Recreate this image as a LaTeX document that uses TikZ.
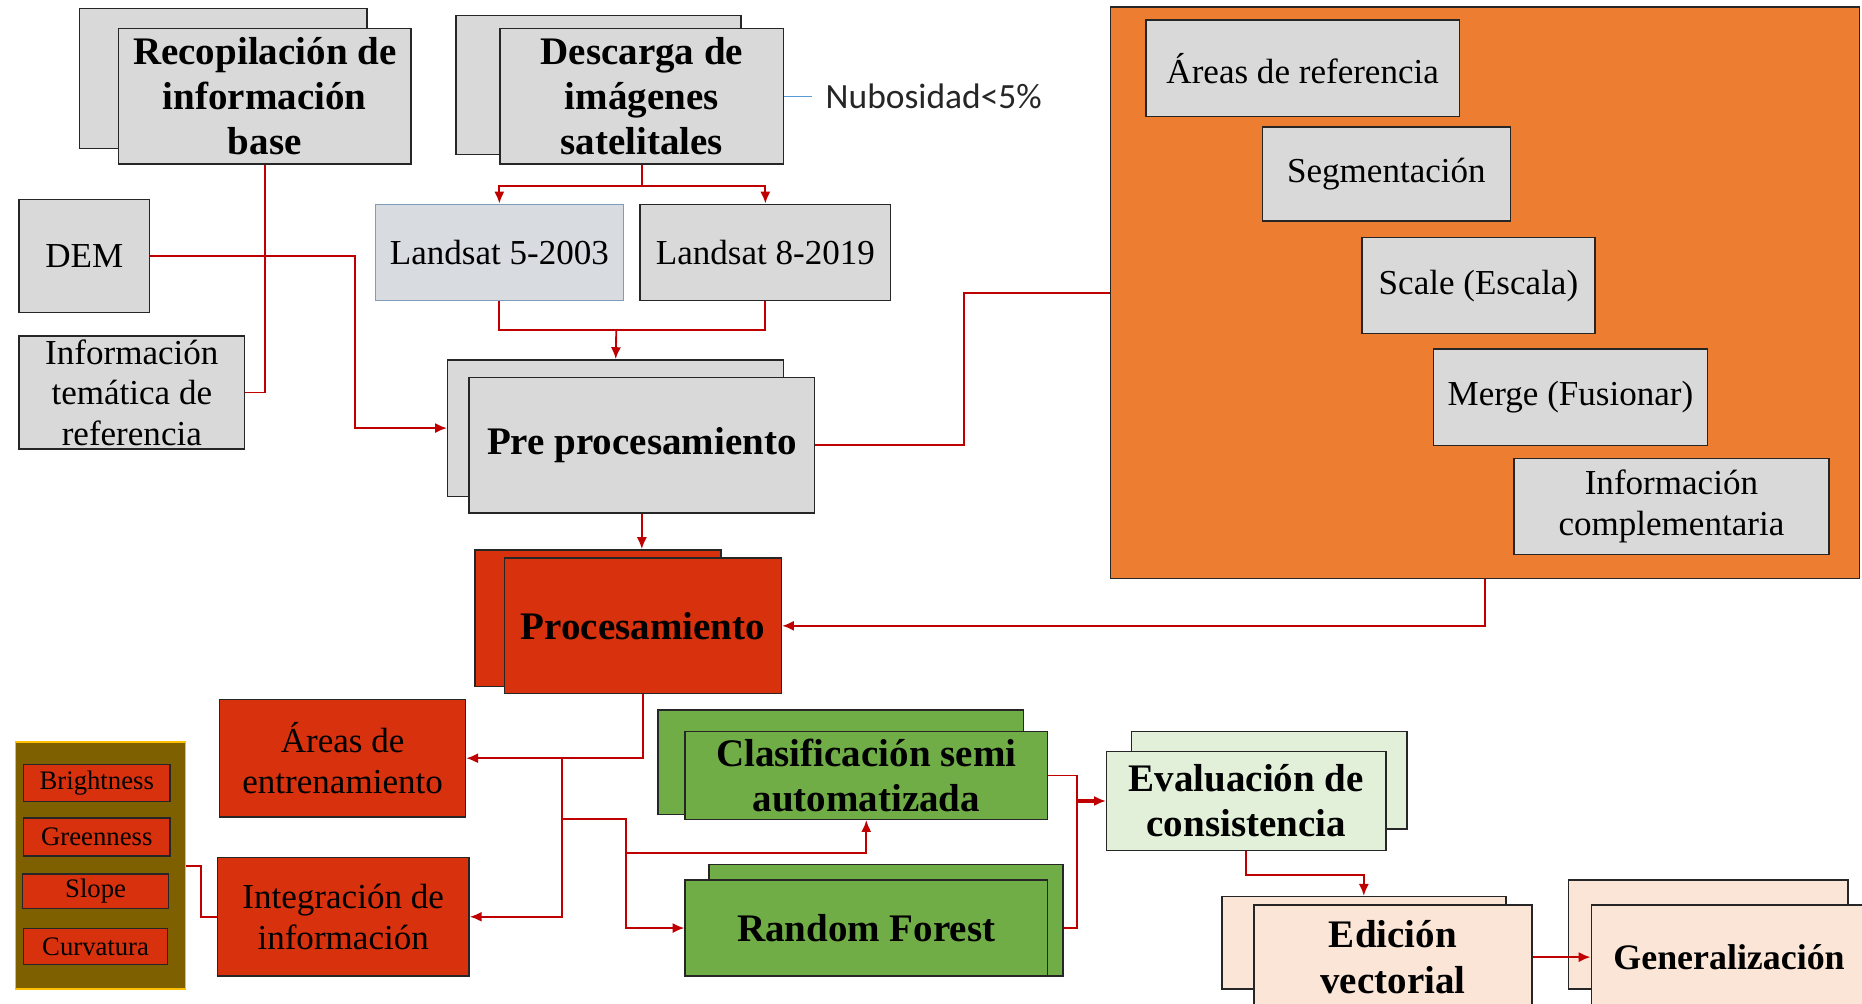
\documentclass[tikz,border=0pt]{standalone}
\usepackage{fontspec}
\setmainfont{Liberation Serif}
\newfontfamily\calibfont{Carlito}
\usetikzlibrary{arrows.meta}
\definecolor{boxgray}{HTML}{D9D9D9}
\definecolor{landgray}{HTML}{D8DCE1}
\definecolor{landedge}{HTML}{7F9DB9}
\definecolor{boxorange}{HTML}{ED7D31}
\definecolor{boxred}{HTML}{D8310E}
\definecolor{boxgreen}{HTML}{70AD47}
\definecolor{palegreen}{HTML}{E2F0D9}
\definecolor{peach}{HTML}{FBE5D6}
\definecolor{olive}{HTML}{7F6000}
\definecolor{gold}{HTML}{FFC000}
\definecolor{linkred}{HTML}{C00000}
\definecolor{nubline}{HTML}{5B9BD5}
\begin{document}
\begin{tikzpicture}[x=0.02cm, y=-0.02cm,
  box/.style 2 args={draw=black!85, line width=0.7pt, inner sep=0pt, align=center,
    minimum width=#1*0.02cm, minimum height=#2*0.02cm},
  head/.style={font=\fontsize{18.7}{21.6}\selectfont\bfseries},
  body/.style={font=\fontsize{16.8}{19.4}\selectfont},
  small/.style={font=\fontsize{12.8}{14}\selectfont},
  conn/.style={draw=linkred, line width=0.9pt},
  arr/.style={conn, -{Latex[length=2mm, width=1.7mm]}}]
\useasboundingbox (0,0) rectangle (1568,845);
\fill[white] (0,0) rectangle (1568,845);
% Top row: inputs
\node[box={242}{118}, fill=boxgray] (recb) at (188,66) {};
\node[box={246}{114}, fill=boxgray, head] (rec) at (223,81) {Recopilación de\\información\\base};
\node[box={240}{117}, fill=boxgray] (desb) at (504,71.5) {};
\node[box={239}{114}, fill=boxgray, head] (des) at (540.5,81) {Descarga de\\imágenes\\satelitales};
\node[anchor=west, inner sep=0pt, inner xsep=0.22cm, font=\calibfont\fontsize{17}{20}\selectfont, text=black!85] (nub) at (684,81) {Nubosidad<5\%};
\draw[nubline, line width=0.6pt] (des.east) -- (nub.west);
\node[box={209}{81}, fill=landgray, draw=landedge, body] (l5) at (420.5,212.5) {Landsat 5-2003};
\node[box={211}{81}, fill=boxgray, body] (l8) at (644.5,212.5) {Landsat 8-2019};
\node[box={110}{95}, fill=boxgray, body] (dem) at (71,215.5) {DEM};
\node[box={190}{95}, fill=boxgray, body] (tem) at (111,330.5) {Información\\temática de\\referencia};
% Pre processing
\node[box={283}{115}, fill=boxgray] (preb) at (518.5,360.5) {};
\node[box={291}{114}, fill=boxgray, head] (pre) at (540.5,375) {Pre procesamiento};
% Orange panel
\node[box={631}{481}, fill=boxorange] (orng) at (1250.5,246.5) {};
\node[box={264}{81}, fill=boxgray, body] (ref) at (1097,57.5) {Áreas de referencia};
\node[box={209}{79}, fill=boxgray, body] (seg) at (1167.5,146.5) {Segmentación};
\node[box={196}{81}, fill=boxgray, body] (scl) at (1245,240.5) {Scale (Escala)};
\node[box={231}{81}, fill=boxgray, body] (mrg) at (1322.5,334.5) {Merge (Fusionar)};
\node[box={265}{81}, fill=boxgray, body] (cmp) at (1407.5,426.5) {Información\\complementaria};
% Processing
\node[box={207}{115}, fill=boxred] (procb) at (503.5,520.5) {};
\node[box={233}{114}, fill=boxred, head] (proc) at (541.5,527) {Procesamiento};
\node[box={207}{99}, fill=boxred, body] (ent) at (288.5,638.5) {Áreas de\\entrenamiento};
\node[box={212}{100}, fill=boxred, body] (int) at (289,772) {Integración de\\información};
% Indices panel
\node[box={143}{208}, fill=olive, draw=gold] (idx) at (84.5,729) {};
\node[box={123}{31}, fill=boxred, small] (bri) at (81.5,659.5) {Brightness};
\node[box={123}{32}, fill=boxred, small] (grn) at (81.5,705) {Greenness};
\node[box={123}{29}, fill=boxred, small] (slp) at (80.5,750.5) {Slope};
\node[box={121}{30}, fill=boxred, small] (cur) at (80.5,797) {Curvatura};
% Classification
\node[box={308}{88}, fill=boxgreen] (clab) at (708,642) {};
\node[box={305}{74}, fill=boxgreen, head] (cla) at (729.5,653) {Clasificación semi\\automatizada};
\node[box={298}{94}, fill=boxgreen] (rfb) at (746,775) {};
\node[box={305}{81}, fill=boxgreen, head] (rf) at (729.5,781.5) {Random Forest};
\node[box={232}{82}, fill=palegreen] (evab) at (1069,657) {};
\node[box={235}{83}, fill=palegreen, head] (eva) at (1049.5,674.5) {Evaluación de\\consistencia};
\node[box={239}{78}, fill=peach] (edib) at (1148.5,794) {};
\node[box={234}{88}, fill=peach, head] (edi) at (1173,806) {Edición\\vectorial};
\node[box={235}{92}, fill=peach] (genb) at (1438.5,787) {};
\node[box={232}{88}, fill=peach, head, font=\fontsize{17.2}{20}\selectfont\bfseries] (gen) at (1456,806) {Generalización};
% Junction points
\coordinate (j1) at (519,278);
\coordinate (t1) at (473,638.5);
\coordinate (t2) at (473,690);
\coordinate (t3) at (527,718);
\coordinate (t4) at (907,674.5);
% Connectors
\draw[conn] (rec.south) |- (tem.east);
\draw[arr] (dem.east) -- ++(172,0) |- (preb.west);
\draw[arr] (des.south) -- ++(0,18) -| (l5.north);
\draw[arr] (des.south) ++(0,18) -| (l8.north);
\draw[conn] (l5.south) |- (j1) -| (l8.south);
\draw[arr] (j1) -- (preb.north);
\draw[conn] (pre.east) -- ++(125,0) |- (orng.west);
\draw[arr] (pre.south) -- (pre.south |- procb.north);
\draw[arr] (orng.south) |- (proc.east);
\draw[arr] (proc.south) |- (ent.east);
\draw[arr] (t1) |- (int.east);
\draw[arr] (t2) -- ++(54,0) |- (rf.west);
\draw[arr] (t3) -| (cla.south);
\draw[conn] (cla.east) -| (t4) |- (rfb.east |- rf.east);
\draw[arr, line width=1.6pt] (t4) -- (eva.west);
\draw[arr] (eva.south) -- ++(0,20) -| (edib.north);
\draw[arr] (edi.east) -- (gen.west);
\draw[conn] (idx.east) -- ++(13,0) |- (int.west);
\end{tikzpicture}
\end{document}
